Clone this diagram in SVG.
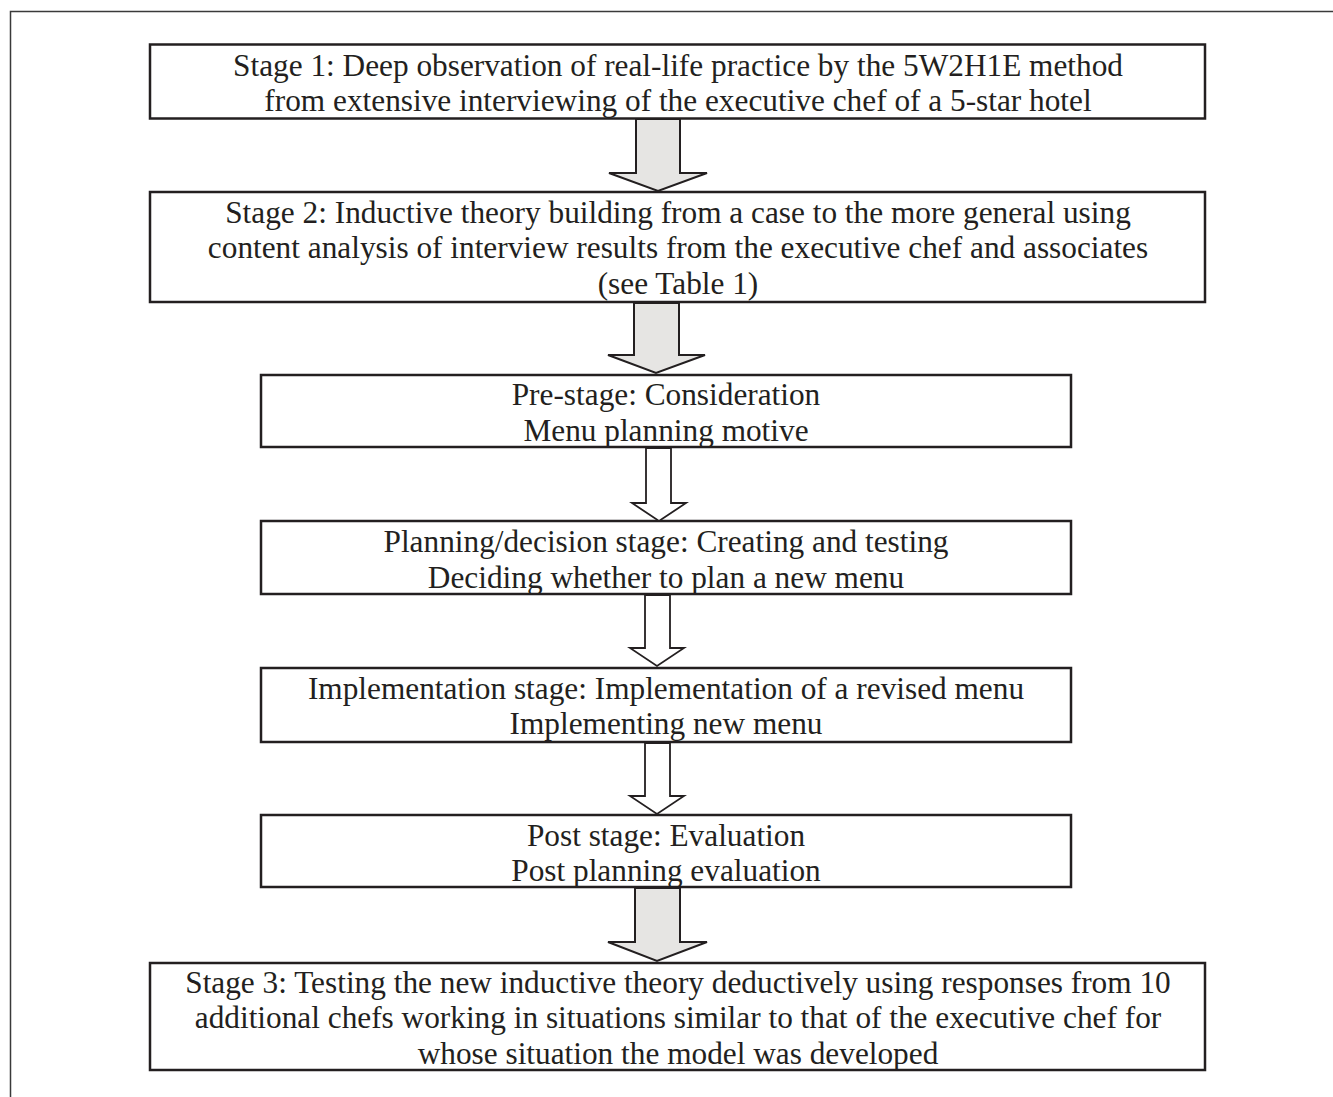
<svg xmlns="http://www.w3.org/2000/svg" width="1333" height="1097" viewBox="0 0 1333 1097">
<style>
.box{fill:#fff;stroke:#231f20;stroke-width:2.5}
.t{font-family:"Liberation Serif","Times New Roman",serif;font-size:31.3px;fill:#231f20;text-anchor:middle}
.ga{fill:#e6e5e3;stroke:#231f20;stroke-width:2;stroke-linejoin:miter}
.wa{fill:#fff;stroke:#231f20;stroke-width:1.8;stroke-linejoin:miter}
.frame{fill:none;stroke:#3a3a3a;stroke-width:1.5}
</style>
<rect width="1333" height="1097" fill="#fff"/>
<path class="frame" d="M10.5,1097 V11.5 H1333"/>
<g id="stage1">
<rect class="box" x="150" y="44.5" width="1055" height="74"/>
<text class="t" x="678" y="75.5">Stage 1: Deep observation of real-life practice by the 5W2H1E method</text>
<text class="t" x="678" y="110.5">from extensive interviewing of the executive chef of a 5-star hotel</text>
</g>
<g id="stage2">
<rect class="box" x="150" y="192" width="1055" height="110"/>
<text class="t" x="678" y="222.5">Stage 2: Inductive theory building from a case to the more general using</text>
<text class="t" x="678" y="257.5">content analysis of interview results from the executive chef and associates</text>
<text class="t" x="678" y="293.5">(see Table 1)</text>
</g>
<g id="prestage">
<rect class="box" x="261" y="375" width="810" height="72"/>
<text class="t" x="666" y="404.5">Pre-stage: Consideration</text>
<text class="t" x="666" y="440.5">Menu planning motive</text>
</g>
<g id="planning">
<rect class="box" x="261" y="521" width="810" height="73"/>
<text class="t" x="666" y="551.5">Planning/decision stage: Creating and testing</text>
<text class="t" x="666" y="587.5">Deciding whether to plan a new menu</text>
</g>
<g id="implementation">
<rect class="box" x="261" y="668" width="810" height="74"/>
<text class="t" x="666" y="698.5">Implementation stage: Implementation of a revised menu</text>
<text class="t" x="666" y="733.5">Implementing new menu</text>
</g>
<g id="post">
<rect class="box" x="261" y="815" width="810" height="72"/>
<text class="t" x="666" y="845.5">Post stage: Evaluation</text>
<text class="t" x="666" y="880.5">Post planning evaluation</text>
</g>
<g id="stage3">
<rect class="box" x="150" y="963" width="1055" height="107"/>
<text class="t" x="678" y="992.5">Stage 3: Testing the new inductive theory deductively using responses from 10</text>
<text class="t" x="678" y="1027.5">additional chefs working in situations similar to that of the executive chef for</text>
<text class="t" x="678" y="1063.5">whose situation the model was developed</text>
</g>
<g id="connectors">
<path class="ga" d="M636,119 H680 V173 H707 L658,191 L609,173 H636 Z"/>
<path class="ga" d="M634,303 H679 V355 H705 L656,373 L608,355 H634 Z"/>
<path class="wa" d="M646,448 H671 V503 H686 L659,521 L632,503 H646 Z"/>
<path class="wa" d="M645,595 H670 V648 H684 L657,666 L630,648 H645 Z"/>
<path class="wa" d="M645,743 H670 V796 H684 L657,814 L630,796 H645 Z"/>
<path class="ga" d="M635,888 H680 V942 H707 L657,961 L608,942 H635 Z"/>
</g>
</svg>
